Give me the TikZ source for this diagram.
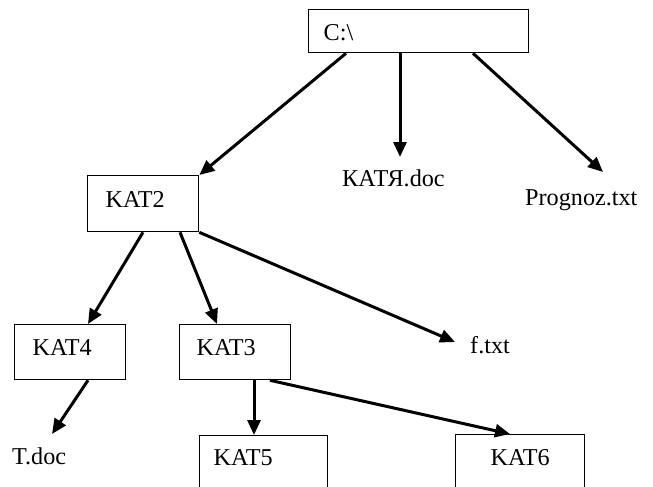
\documentclass[tikz,border=0pt]{standalone}
\usepackage{fontspec}
\setmainfont{Liberation Serif}
\usetikzlibrary{arrows.meta}
\begin{document}
\begin{tikzpicture}[x=1pt,y=-1pt,
  txt/.style={font=\fontsize{24.2}{28}\selectfont},
  box/.style={txt, draw, line width=1.3pt, anchor=north west, inner ysep=0pt, align=left},
  lbl/.style={txt, anchor=base west, inner sep=0pt},
  arr/.style={line width=3pt, -{Triangle[length=15pt,width=13pt]}}]
\clip (0,0) rectangle (653,487);
% boxes
\node[box, inner xsep=15pt, text width=190pt, text height=31pt, text depth=12pt] (c) at (308,9) {C:\textbackslash};
\node[box, inner xsep=18pt, text width=75pt, text height=32pt, text depth=24pt] (kat2) at (87,175) {KAT2};
\node[box, inner xsep=18pt, text width=75pt, text height=31pt, text depth=24pt] (kat4) at (14,324) {KAT4};
\node[box, inner xsep=17pt, text width=77pt, text height=31pt, text depth=24pt] (kat3) at (179,324) {KAT3};
\node[box, inner xsep=14pt, text width=100pt, text height=30pt, text depth=30pt] (kat5) at (199,435) {KAT5};
\node[box, inner xsep=35pt, text width=59pt, text height=31pt, text depth=30pt] (kat6) at (455,434) {KAT6};
% file labels
\node[lbl] (katya) at (342,186) {КАТЯ.doc};
\node[lbl] (prog) at (525,205) {Prognoz.txt};
\node[lbl] (ftxt) at (470,353) {f.txt};
\node[lbl] (tdoc) at (12,464) {T.doc};
% arrow tips at the file labels
\coordinate (tipkatya) at (400,157);
\coordinate (tipprog) at (603,172);
\coordinate (tipf) at (455,342);
\coordinate (tipt) at (52,434);
% connectors
\draw[arr] ([xshift=38pt]c.south west) -- (kat2.north east);
\draw[arr] ([xshift=92pt]c.south west) -- (tipkatya);
\draw[arr] ([xshift=165pt]c.south west) -- (tipprog);
\draw[arr] ([xshift=56pt]kat2.south west) -- ([xshift=74pt]kat4.north west);
\draw[arr] ([xshift=93pt]kat2.south west) -- ([xshift=38pt]kat3.north west);
\draw[arr] (kat2.south east) -- (tipf);
\draw[arr] ([xshift=74pt]kat4.south west) -- (tipt);
\draw[arr] ([xshift=75pt]kat3.south west) -- ([xshift=55pt]kat5.north west);
\draw[arr] ([xshift=91pt]kat3.south west) -- ([xshift=55pt]kat6.north west);
\end{tikzpicture}
\end{document}
